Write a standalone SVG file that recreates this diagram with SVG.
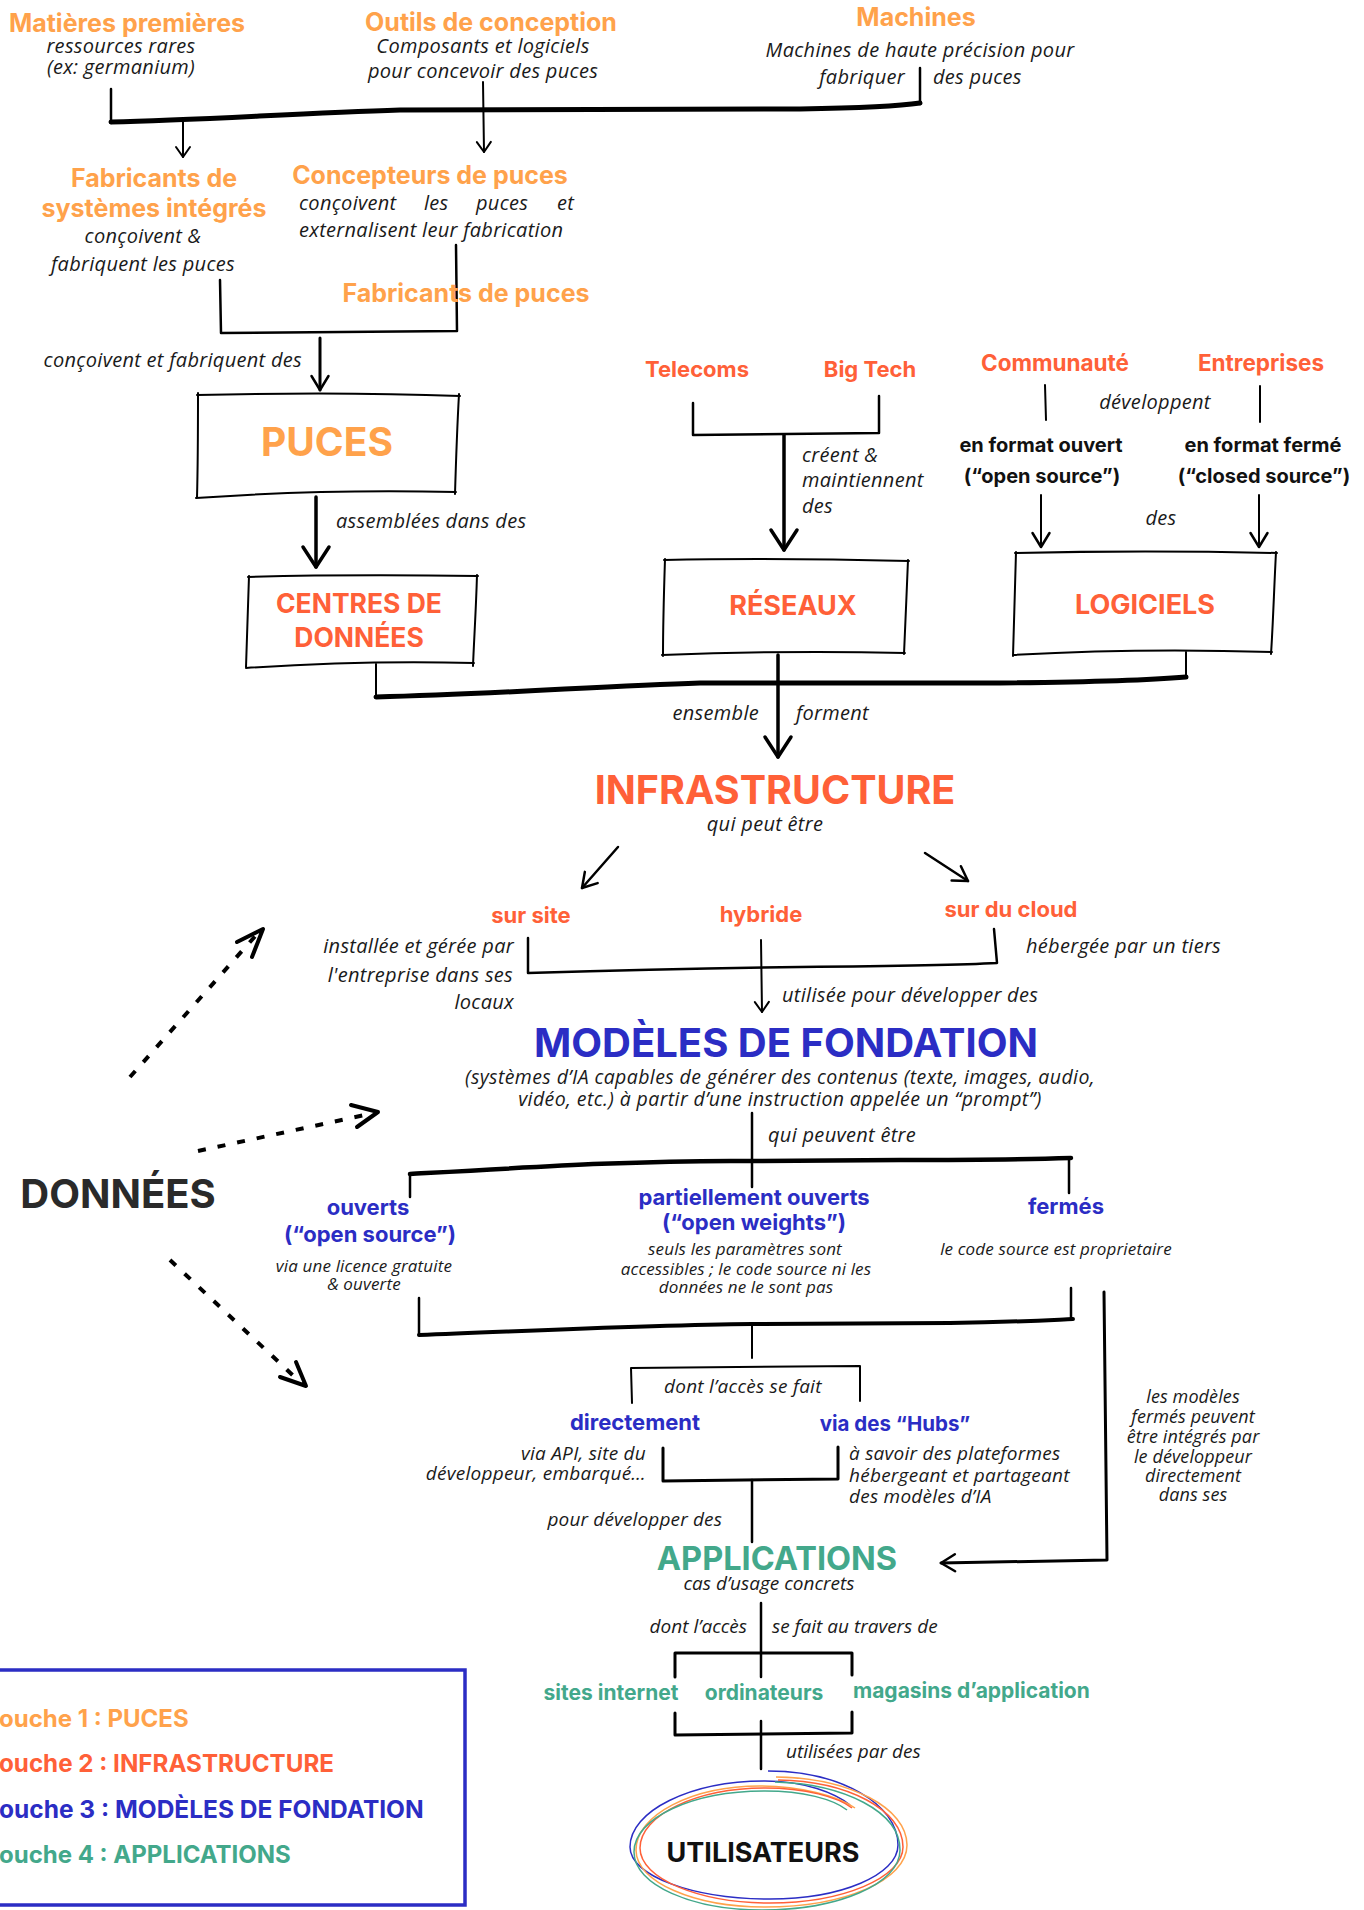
<svg xmlns="http://www.w3.org/2000/svg" width="1364" height="1910" viewBox="0 0 1364 1910">
<style>
.h{font-family:Inter,"Liberation Sans",sans-serif;font-weight:700}
.i{font-family:"Open Sans","Liberation Sans",sans-serif;font-style:italic;fill:#1a1a1a}
.a{font-size:20px;letter-spacing:0.3px}
.b{font-size:19px}
.c{font-size:19px;letter-spacing:0.25px}
.s{font-size:17px;letter-spacing:0.15px}
.or{fill:#FFA24B}.rd{fill:#FF6038}.bl{fill:#2B2DC4}.gr{fill:#43A88B}.bk{fill:#111}.dk{fill:#2A2A2A}
.ln{fill:none;stroke:#000;stroke-linecap:round;stroke-linejoin:round}
.box{fill:none;stroke:#000;stroke-width:2;stroke-linecap:round}
.dot{fill:none;stroke:#000;stroke-width:4;stroke-dasharray:8 12}
.m{text-anchor:middle}.e{text-anchor:end}
</style>
<defs>
<marker id="hs" markerUnits="userSpaceOnUse" markerWidth="20" markerHeight="20" orient="auto" overflow="visible"><path d="M-10,-7 L0,0 L-10,7" fill="none" stroke="#000" stroke-width="2" stroke-linecap="round" stroke-linejoin="round"/></marker>
<marker id="hm" markerUnits="userSpaceOnUse" markerWidth="20" markerHeight="20" orient="auto" overflow="visible"><path d="M-14,-8.5 L0,0 L-14,8.5" fill="none" stroke="#000" stroke-width="2.5" stroke-linecap="round" stroke-linejoin="round"/></marker>
<marker id="hl" markerUnits="userSpaceOnUse" markerWidth="30" markerHeight="30" orient="auto" overflow="visible"><path d="M-20,-13 L0,0 L-20,13" fill="none" stroke="#000" stroke-width="3.5" stroke-linecap="round" stroke-linejoin="round"/></marker>
</defs>
<rect width="1364" height="1910" fill="#fff"/>

<g id="connectors">
<path class="ln" stroke-width="2.5" d="M111,89 L111,123"/>
<path class="ln" stroke-width="5" d="M111,122 C200,120 300,113 400,110 L800,109 C860,108 900,106 920,103"/>
<path class="ln" stroke-width="2.5" d="M920,68 L920,104"/>
<path class="ln" stroke-width="2" d="M183,118 L183,157" marker-end="url(#hs)"/>
<path class="ln" stroke-width="2" d="M483,82 L484,152" marker-end="url(#hs)"/>
<path class="ln" stroke-width="2.5" d="M220,280 L221,333 L457,331 L456,245"/>
<path class="ln" stroke-width="3" d="M320,338 L320,390" marker-end="url(#hm)"/>
<path class="ln" stroke-width="3.5" d="M316,497 L316,567" marker-end="url(#hl)"/>
<path class="ln" stroke-width="2.5" d="M693,403 L693,435 L879,433 L879,396"/>
<path class="ln" stroke-width="3.5" d="M784,435 L784,550" marker-end="url(#hl)"/>
<path class="ln" stroke-width="2" d="M1045,385 L1046,420 M1260,386 L1260,422"/>
<path class="ln" stroke-width="2" d="M1041,495 L1041,547" marker-end="url(#hm)"/>
<path class="ln" stroke-width="2" d="M1259,495 L1259,547" marker-end="url(#hm)"/>
<path class="ln" stroke-width="2" d="M376,664 L376,697 M1186,677 L1186,652"/>
<path class="ln" stroke-width="5" d="M376,697 C500,694 600,686 700,683 L1000,683 C1100,682 1150,680 1186,677"/>
<path class="ln" stroke-width="3.5" d="M778,655 L778,757" marker-end="url(#hl)"/>
<path class="ln" stroke-width="2.5" d="M618,847 L582,888" marker-end="url(#hm)"/>
<path class="ln" stroke-width="2.5" d="M925,853 L968,881" marker-end="url(#hm)"/>
<path class="ln" stroke-width="2.5" d="M528,938 L528,973 C620,970 700,968 800,967 C900,966 960,965 997,963 L994,929"/>
<path class="ln" stroke-width="2" d="M761,940 L762,1012" marker-end="url(#hs)"/>
<path class="ln" stroke-width="2.5" d="M752,1113 L752,1187 M410,1175 L410,1197 M1069,1158 L1069,1193"/>
<path class="ln" stroke-width="4.5" d="M410,1174 C550,1166 650,1160 752,1161 L900,1160 C1000,1160 1040,1159 1071,1158"/>
<path class="ln" stroke-width="2.5" d="M419,1298 L419,1335 M1071,1288 L1071,1319"/>
<path class="ln" stroke-width="4" d="M419,1335 C550,1330 650,1325 752,1324 L950,1323 C1020,1322 1050,1320 1073,1319"/>
<path class="ln" stroke-width="2" d="M752,1323 L752,1358"/>
<path class="ln" stroke-width="2" d="M632,1403 L631,1368 C700,1367 780,1367 860,1366 L860,1401"/>
<path class="ln" stroke-width="3" d="M663,1448 L663,1481 L838,1479 L838,1447"/>
<path class="ln" stroke-width="2.5" d="M752,1480 L752,1542"/>
<path class="ln" stroke-width="3" d="M1104,1292 L1107,1560 L941,1563" marker-end="url(#hm)"/>
<path class="ln" stroke-width="2.5" d="M761,1603 L761,1677 M761,1721 L761,1769"/>
<path class="ln" stroke-width="3" d="M675,1677 L675,1653 L852,1653 L852,1675 M675,1713 L675,1735 L852,1733 L852,1712"/>
<path class="dot" d="M130,1077 L258,933"/>
<path class="ln" stroke-width="4" d="M237,942 L263,929 L252,957"/>
<path class="dot" d="M198,1151 L374,1113"/>
<path class="ln" stroke-width="4" d="M351,1105 L378,1112 L357,1127"/>
<path class="dot" d="M170,1260 L301,1383"/>
<path class="ln" stroke-width="4" d="M296,1362 L306,1386 L280,1377"/>
</g>

<g id="matieres">
<text class="h or m" x="127" y="32" font-size="25">Matières premières</text>
<text class="i a m" x="121" y="53">ressources rares</text>
<text class="i a m" x="121" y="74">(ex: germanium)</text>
</g>
<g id="outils">
<text class="h or m" x="491" y="31" font-size="25">Outils de conception</text>
<text class="i a m" x="483" y="53">Composants et logiciels</text>
<text class="i a m" x="483" y="78">pour concevoir des puces</text>
</g>
<g id="machines">
<text class="h or m" x="916" y="26" font-size="25">Machines</text>
<text class="i a m" x="920" y="57">Machines de haute précision pour</text>
<text class="i a e" x="905" y="84">fabriquer</text>
<text class="i a" x="933" y="84">des puces</text>
</g>
<g id="fabricants-systemes">
<text class="h or m" x="154" y="187" font-size="25">Fabricants de</text>
<text class="h or m" x="154" y="217" font-size="25">systèmes intégrés</text>
<text class="i a m" x="143" y="243">conçoivent &amp;</text>
<text class="i a m" x="143" y="271">fabriquent les puces</text>
</g>
<g id="concepteurs">
<text class="h or m" x="430" y="184" font-size="25">Concepteurs de puces</text>
<text class="i a" x="299" y="210">conçoivent</text>
<text class="i a" x="424" y="210">les</text>
<text class="i a" x="476" y="210">puces</text>
<text class="i a" x="557" y="210">et</text>
<text class="i a" x="299" y="237">externalisent leur fabrication</text>
</g>
<g id="fabricants-puces">
<text class="h or m" x="466" y="302" font-size="25">Fabricants de puces</text>
</g>
<g id="label-fabriquent">
<text class="i a e" x="302" y="367">conçoivent et fabriquent des</text>
</g>
<g id="puces">
<path class="box" d="M197,395 C280,393 380,393 460,396 M459,394 C457,430 456,460 455,494 M456,492 C370,490 280,492 196,498 M197,498 C198,460 198,430 198,393"/>
<text class="h or m" x="327" y="456" font-size="39">PUCES</text>
</g>
<g id="label-assemblees">
<text class="i a" x="336" y="528">assemblées dans des</text>
</g>
<g id="centres">
<path class="box" d="M248,577 C320,575 400,575 478,576 M477,575 C476,610 474,640 473,666 M474,663 C400,661 320,663 246,668 M246,667 C247,640 248,610 249,576"/>
<text class="h rd m" x="359" y="613" font-size="26.5">CENTRES DE</text>
<text class="h rd m" x="359" y="647" font-size="26.5">DONNÉES</text>
</g>
<g id="telecoms">
<text class="h rd m" x="697" y="377" font-size="22">Telecoms</text>
</g>
<g id="bigtech">
<text class="h rd m" x="870" y="377" font-size="22">Big Tech</text>
</g>
<g id="label-creent">
<text class="i a" x="802" y="462">créent &amp;</text>
<text class="i a" x="802" y="487">maintiennent</text>
<text class="i a" x="802" y="513">des</text>
</g>
<g id="reseaux">
<path class="box" d="M664,560 C750,558 830,559 909,561 M908,560 C907,590 905,625 904,654 M905,653 C820,651 740,652 662,655 M663,656 C663,620 664,590 665,559"/>
<text class="h rd m" x="793" y="615" font-size="27">RÉSEAUX</text>
</g>
<g id="communaute">
<text class="h rd m" x="1055" y="371" font-size="22.5">Communauté</text>
</g>
<g id="entreprises">
<text class="h rd m" x="1261" y="371" font-size="22.5">Entreprises</text>
</g>
<g id="label-developpent">
<text class="i a m" x="1155" y="409">développent</text>
</g>
<g id="format-ouvert">
<text class="h bk m" x="1041" y="452" font-size="20">en format ouvert</text>
<text class="h bk m" x="1042" y="483" font-size="20">(“open source”)</text>
</g>
<g id="format-ferme">
<text class="h bk m" x="1263" y="452" font-size="20">en format fermé</text>
<text class="h bk m" x="1264" y="483" font-size="20">(“closed source”)</text>
</g>
<g id="label-des">
<text class="i a m" x="1161" y="525">des</text>
</g>
<g id="logiciels">
<path class="box" d="M1015,553 C1100,551 1190,551 1277,553 M1276,552 C1274,590 1273,625 1271,654 M1272,652 C1180,649 1100,650 1013,655 M1013,656 C1014,620 1015,590 1016,552"/>
<text class="h rd m" x="1145" y="614" font-size="27">LOGICIELS</text>
</g>
<g id="label-ensemble">
<text class="i a e" x="759" y="720">ensemble</text>
<text class="i a" x="796" y="720">forment</text>
</g>
<g id="infrastructure">
<text class="h rd m" x="775" y="804" font-size="39.5">INFRASTRUCTURE</text>
<text class="i a m" x="765" y="831">qui peut être</text>
</g>
<g id="sursite">
<text class="h rd m" x="531" y="923" font-size="22">sur site</text>
<text class="i a e" x="514" y="953">installée et gérée par</text>
<text class="i a e" x="513" y="982">l'entreprise dans ses</text>
<text class="i a e" x="514" y="1009">locaux</text>
</g>
<g id="hybride">
<text class="h rd m" x="761" y="922" font-size="22">hybride</text>
</g>
<g id="cloud">
<text class="h rd m" x="1011" y="917" font-size="22">sur du cloud</text>
<text class="i a" x="1026" y="953">hébergée par un tiers</text>
</g>
<g id="label-utilisee">
<text class="i a" x="782" y="1002">utilisée pour développer des</text>
</g>
<g id="modeles">
<text class="h bl m" x="786" y="1057" font-size="40">MODÈLES DE FONDATION</text>
<text class="i m" x="780" y="1084" font-size="19.5" letter-spacing="0.4">(systèmes d’IA capables de générer des contenus (texte, images, audio,</text>
<text class="i m" x="780" y="1106" font-size="19.5" letter-spacing="0.4">vidéo, etc.) à partir d’une instruction appelée un “prompt”)</text>
</g>
<g id="label-peuvent">
<text class="i a" x="768" y="1142" letter-spacing="0.45">qui peuvent être</text>
</g>
<g id="ouverts">
<text class="h bl m" x="368" y="1215" font-size="22">ouverts</text>
<text class="h bl m" x="370" y="1242" font-size="22">(“open source”)</text>
<text class="i s m" x="364" y="1272">via une licence gratuite</text>
<text class="i s m" x="364" y="1290">&amp; ouverte</text>
</g>
<g id="partiels">
<text class="h bl m" x="754" y="1205" font-size="22">partiellement ouverts</text>
<text class="h bl m" x="754" y="1230" font-size="22">(“open weights”)</text>
<text class="i s m" x="745" y="1255">seuls les paramètres sont</text>
<text class="i s m" x="746" y="1275">accessibles ; le code source ni les</text>
<text class="i s m" x="746" y="1293">données ne le sont pas</text>
</g>
<g id="fermes">
<text class="h bl m" x="1066" y="1214" font-size="22">fermés</text>
<text class="i s m" x="1056" y="1255">le code source est proprietaire</text>
</g>
<g id="label-acces">
<text class="i c" x="664" y="1393">dont l’accès se fait</text>
</g>
<g id="directement">
<text class="h bl m" x="635" y="1430" font-size="22">directement</text>
<text class="i c e" x="646" y="1460">via API, site du</text>
<text class="i c e" x="646" y="1480">développeur, embarqué…</text>
</g>
<g id="hubs">
<text class="h bl m" x="895" y="1431" font-size="20.5">via des “Hubs”</text>
<text class="i c" x="849" y="1460">à savoir des plateformes</text>
<text class="i c" x="849" y="1482">hébergeant et partageant</text>
<text class="i c" x="849" y="1503">des modèles d’IA</text>
</g>
<g id="label-pour">
<text class="i b e" x="722" y="1526" letter-spacing="0.15">pour développer des</text>
</g>
<g id="label-fermes-integres">
<text class="i m" x="1193" y="1403" font-size="18" letter-spacing="0.1">les modèles</text>
<text class="i m" x="1193" y="1423" font-size="18" letter-spacing="0.1">fermés peuvent</text>
<text class="i m" x="1193" y="1443" font-size="18" letter-spacing="0.1">être intégrés par</text>
<text class="i m" x="1193" y="1463" font-size="18" letter-spacing="0.1">le développeur</text>
<text class="i m" x="1193" y="1482" font-size="18" letter-spacing="0.1">directement</text>
<text class="i m" x="1193" y="1501" font-size="18" letter-spacing="0.1">dans ses</text>
</g>
<g id="applications">
<text class="h gr m" x="777" y="1570" font-size="32.5">APPLICATIONS</text>
<text class="i b m" x="769" y="1590">cas d’usage concrets</text>
</g>
<g id="label-travers">
<text class="i b e" x="747" y="1633">dont l’accès</text>
<text class="i b" x="772" y="1633">se fait au travers de</text>
</g>
<g id="sites">
<text class="h gr m" x="611" y="1700" font-size="21">sites internet</text>
</g>
<g id="ordinateurs">
<text class="h gr m" x="764" y="1700" font-size="21">ordinateurs</text>
</g>
<g id="magasins">
<text class="h gr" x="853" y="1698" font-size="21">magasins d’application</text>
</g>
<g id="label-utilisees">
<text class="i b" x="786" y="1758">utilisées par des</text>
</g>
<g id="utilisateurs">
<path fill="none" stroke="#2B2DC4" stroke-width="1.5" d="M768,1771 C840,1771 898,1804 898,1845 C898,1875 841,1899 770,1899 C693,1899 630,1876 630,1847 C630,1811 690,1781 765,1781 C805,1781 835,1793 850,1805"/>
<path fill="none" stroke="#FFA24B" stroke-width="1.5" d="M776,1777 C850,1778 907,1808 907,1845 C907,1880 845,1907 765,1907 C694,1907 636,1882 636,1850 C636,1815 692,1786 760,1786 C800,1786 838,1796 855,1808"/>
<path fill="none" stroke="#FF6038" stroke-width="1.5" d="M778,1780 C848,1781 903,1810 903,1847 C903,1878 842,1903 770,1903 C700,1903 640,1879 640,1848 C640,1815 697,1788 765,1788 C805,1788 838,1797 852,1808"/>
<path fill="none" stroke="#43A88B" stroke-width="1.5" d="M775,1782 C845,1784 900,1812 900,1850 C900,1884 838,1910 762,1910 C692,1910 634,1885 634,1852 C634,1818 692,1791 765,1791 C803,1791 833,1799 847,1810"/>
<text class="h bk m" x="763" y="1862" font-size="27">UTILISATEURS</text>
</g>
<g id="donnees">
<text class="h dk m" x="118" y="1208" font-size="40">DONNÉES</text>
</g>
<g id="legende">
<rect x="-3" y="1670" width="468" height="235" fill="none" stroke="#2B2DC4" stroke-width="3.5"/>
<text class="h or" x="-1" y="1727" font-size="24">ouche 1 : PUCES</text>
<text class="h rd" x="-1" y="1772" font-size="24.2">ouche 2 : INFRASTRUCTURE</text>
<text class="h bl" x="-1" y="1818" font-size="24.5">ouche 3 : MODÈLES DE FONDATION</text>
<text class="h gr" x="-1" y="1863" font-size="24">ouche 4 : APPLICATIONS</text>
</g>
</svg>
